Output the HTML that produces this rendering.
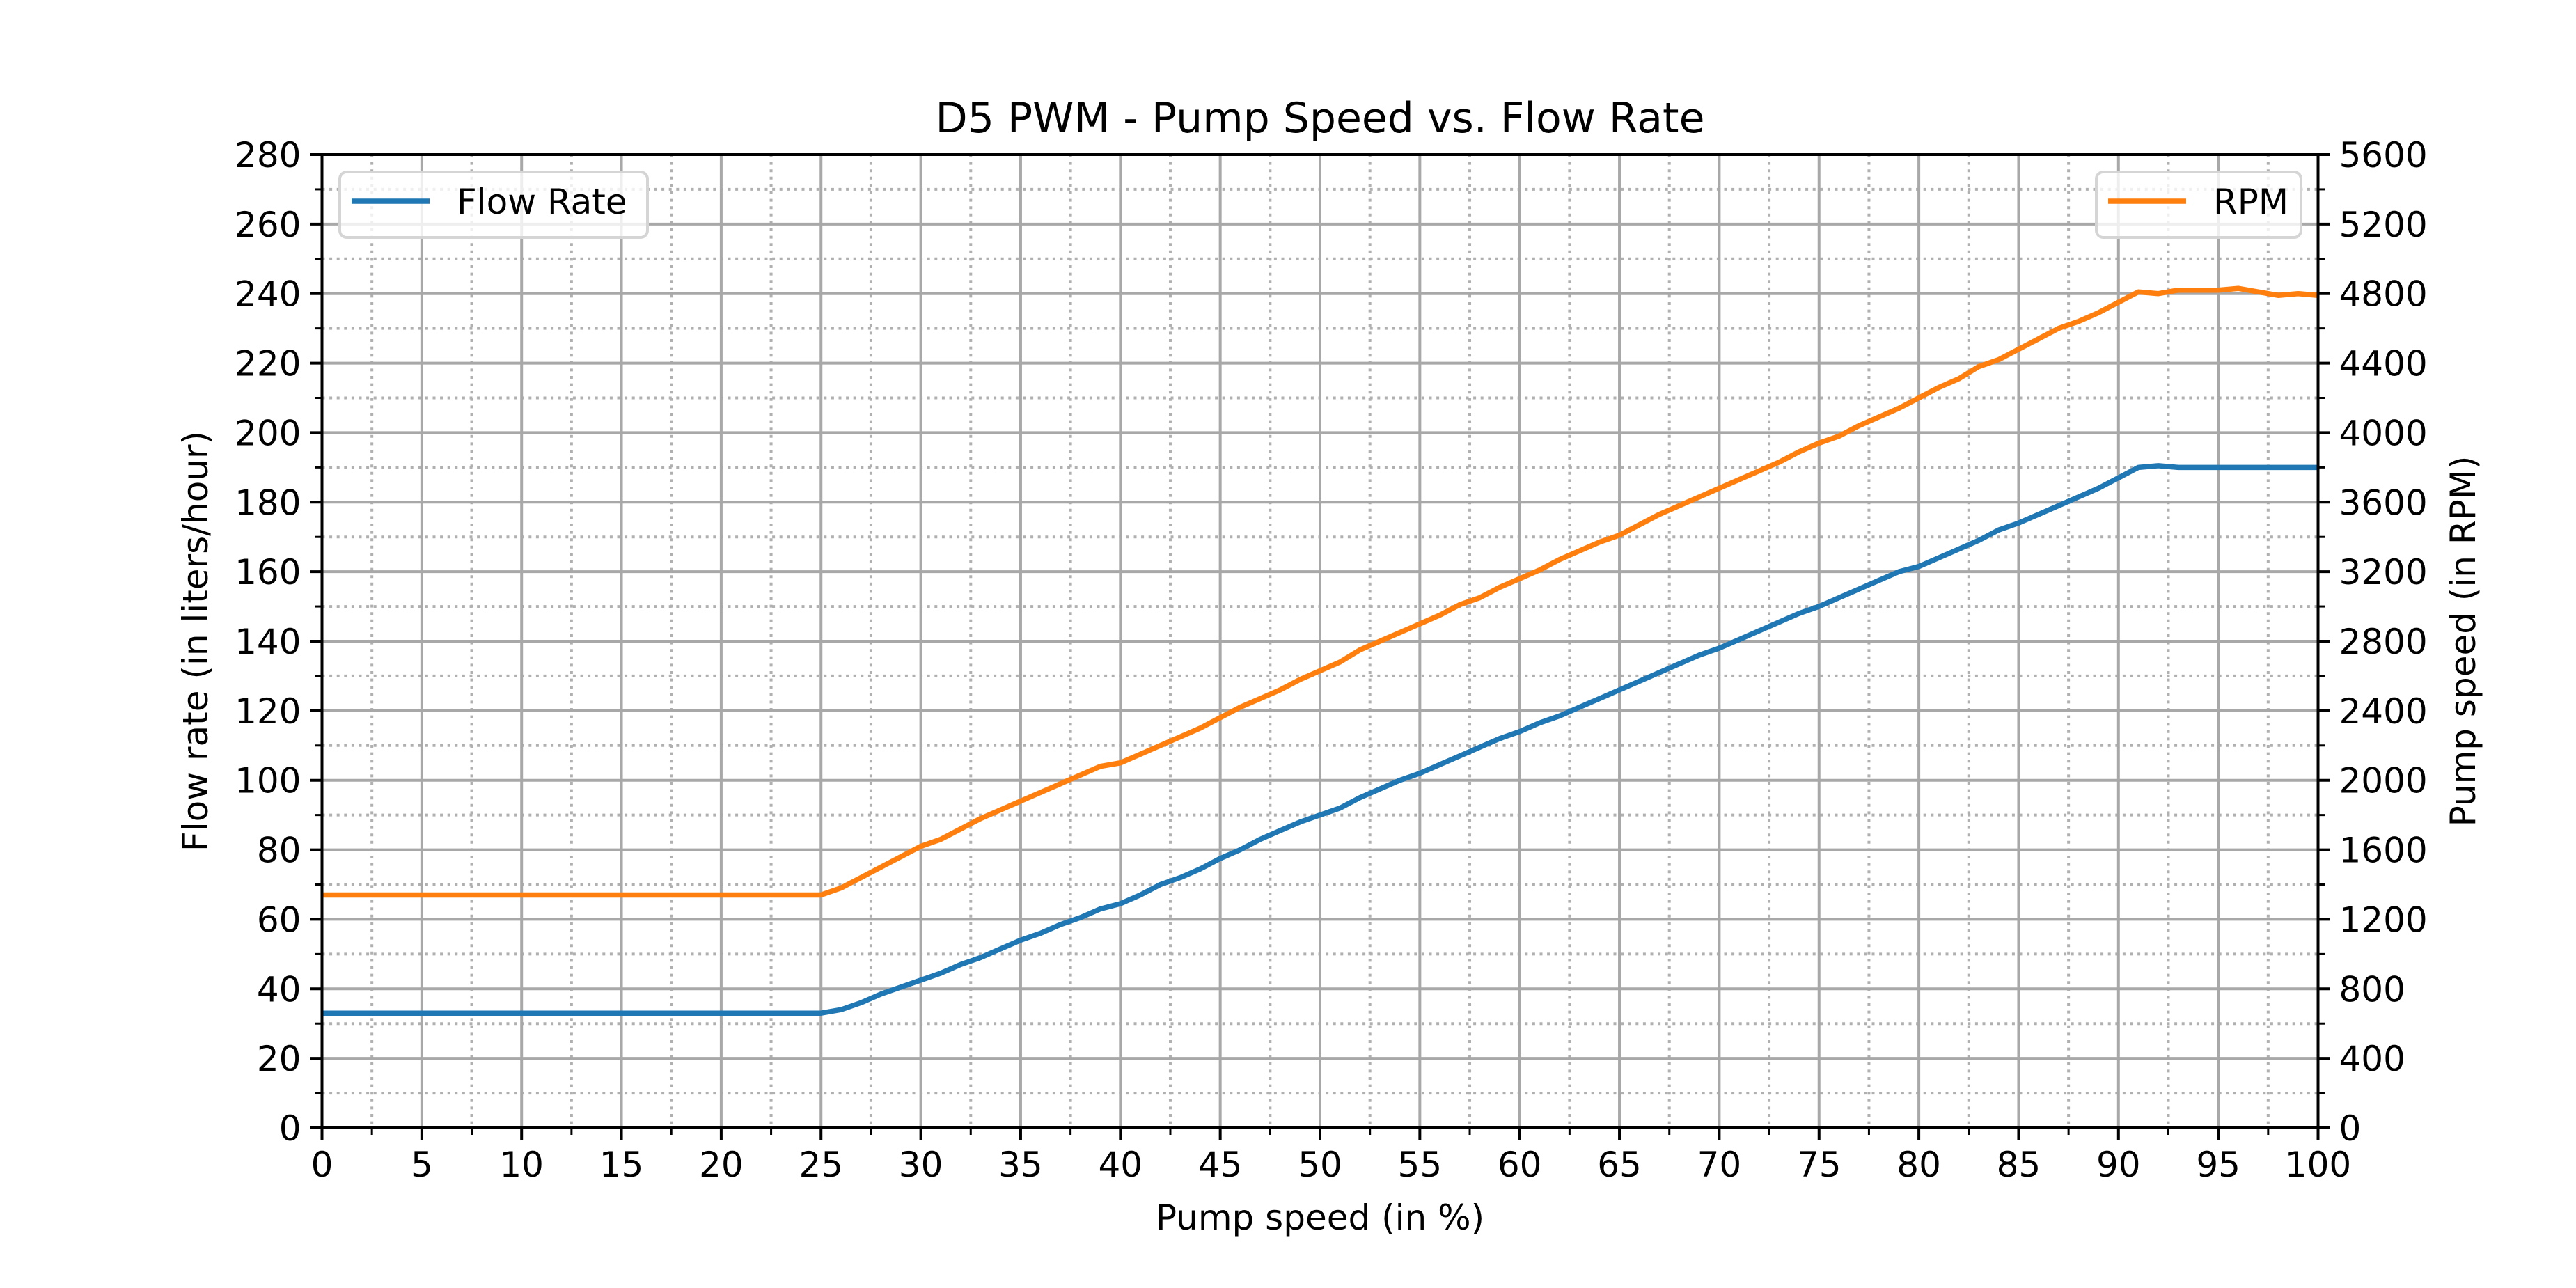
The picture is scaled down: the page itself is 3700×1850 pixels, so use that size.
<!DOCTYPE html>
<html><head><meta charset="utf-8"><style>
html,body{margin:0;padding:0;background:#fff;}
svg{display:block;font-family:"DejaVu Sans","Liberation Sans",sans-serif;}
</style></head><body>
<svg id="chart" width="3700" height="1850" viewBox="0 0 3700 1850" xmlns="http://www.w3.org/2000/svg">
<rect width="3700" height="1850" fill="#fff"/>
<g id="grid"></g><g id="series"></g><g id="axes"></g>
<text x="1896" y="190" font-size="60" text-anchor="middle">D5 PWM - Pump Speed vs. Flow Rate</text>
<text x="1896" y="1766" font-size="50" text-anchor="middle">Pump speed (in %)</text>
<text transform="translate(298,921) rotate(-90)" font-size="50" text-anchor="middle">Flow rate (in liters/hour)</text>
<text transform="translate(3555,921) rotate(-90)" font-size="50" text-anchor="middle">Pump speed (in RPM)</text>
<g>
<rect x="488" y="247" width="442" height="94" rx="10" fill="#fff" fill-opacity="0.8" stroke="#d5d5d5" stroke-width="4"/>
<line x1="505" y1="289" x2="617" y2="289" stroke="#1f77b4" stroke-width="7.5"/>
<text x="656" y="307" font-size="50">Flow Rate</text>
</g>
<g>
<rect x="3011" y="247" width="294" height="94" rx="10" fill="#fff" fill-opacity="0.8" stroke="#d5d5d5" stroke-width="4"/>
<line x1="3028" y1="289" x2="3140" y2="289" stroke="#ff7f0e" stroke-width="7.5"/>
<text x="3179" y="307" font-size="50">RPM</text>
</g>
</svg>
<script>
const speeds = [];
for (let i = 0; i <= 100; i++) speeds.push(i);
const flowValues = [33,33,33,33,33,33,33,33,33,33,33,33,33,33,33,33,33,33,33,33,33,33,33,33,33,33,
34,36,38.5,40.5,42.5,44.5,47,49,51.5,54,56,58.5,60.5,63,64.5,67,70,72,74.5,77.5,80,83,85.5,88,90,
92,95,97.5,100,102,104.5,107,109.5,112,114,116.5,118.5,121,123.5,126,128.5,131,133.5,136,138,
140.5,143,145.5,148,150,152.5,155,157.5,160,161.5,164,166.5,169,172,174,176.5,179,181.5,184,187,
190,190.5,190,190,190,190,190,190,190,190];
const rpmValues = [1340,1340,1340,1340,1340,1340,1340,1340,1340,1340,1340,1340,1340,1340,1340,1340,1340,1340,1340,1340,1340,1340,1340,1340,1340,1340,
1380,1440,1500,1560,1620,1660,1720,1780,1830,1880,1930,1980,2030,2080,2100,2150,2200,2250,2300,2360,2420,2470,2520,2580,2630,
2680,2750,2800,2850,2900,2950,3010,3050,3110,3160,3210,3270,3320,3370,3410,3470,3530,3580,3630,3680,
3730,3780,3830,3890,3940,3980,4040,4090,4140,4200,4260,4310,4380,4420,4480,4540,4600,4640,4690,4750,
4810,4800,4820,4820,4820,4830,4810,4790,4800,4790];
const xTicks = [0,5,10,15,20,25,30,35,40,45,50,55,60,65,70,75,80,85,90,95,100];
const yTicksLeft = [0,20,40,60,80,100,120,140,160,180,200,220,240,260,280];
const yTicksRight = [0,400,800,1200,1600,2000,2400,2800,3200,3600,4000,4400,4800,5200,5600];

const L=462.5,R=3329.5,T=222,B=1620;
const X=v=>L+(v-0)/(100)*(R-L);
const YL=v=>B-v/280*(B-T);
const YR=v=>B-v/5600*(B-T);
const NS="http://www.w3.org/2000/svg";
function mk(tag,attrs,parent){const e=document.createElementNS(NS,tag);for(const k in attrs)e.setAttribute(k,attrs[k]);parent.appendChild(e);return e;}
const grid=document.getElementById('grid'),axes=document.getElementById('axes'),series=document.getElementById('series');

for(let v=2.5;v<100;v+=5){const g=mk('line',{x1:X(v),x2:X(v),y1:T,y2:B,stroke:'#b0b0b0','stroke-width':4,'stroke-dasharray':'4,6.6'},grid);


const t=mk('line',{x1:X(v),x2:X(v),y1:B,y2:B+10,stroke:'#000','stroke-width':3},axes);

}
for(let v=10;v<280;v+=20){const g=mk('line',{x1:L,x2:R,y1:YL(v),y2:YL(v),stroke:'#b0b0b0','stroke-width':4,'stroke-dasharray':'4,6.6'},grid);


const t=mk('line',{x1:L-10,x2:L,y1:YL(v),y2:YL(v),stroke:'#000','stroke-width':3},axes);


const t2=mk('line',{x1:R,x2:R+10,y1:YL(v),y2:YL(v),stroke:'#000','stroke-width':3},axes);

}
xTicks.forEach(v=>{if(v>0&&v<100){const g=mk('line',{x1:X(v),x2:X(v),y1:T,y2:B,stroke:'#a8a8a8','stroke-width':4},grid);

}
const t=mk('line',{x1:X(v),x2:X(v),y1:B,y2:B+17.5,stroke:'#000','stroke-width':4},axes);


const lb=mk('text',{x:X(v),y:B+70,'font-size':50,'text-anchor':'middle'},axes);lb.textContent=v;

});
yTicksLeft.forEach(v=>{if(v>0&&v<280){const g=mk('line',{x1:L,x2:R,y1:YL(v),y2:YL(v),stroke:'#a8a8a8','stroke-width':4},grid);

}
const t=mk('line',{x1:L-17.5,x2:L,y1:YL(v),y2:YL(v),stroke:'#000','stroke-width':4},axes);


const lb=mk('text',{x:L-30,y:YL(v)+18,'font-size':50,'text-anchor':'end'},axes);lb.textContent=v;

});
yTicksRight.forEach(v=>{const t=mk('line',{x1:R,x2:R+17.5,y1:YR(v),y2:YR(v),stroke:'#000','stroke-width':4},axes);


const lb=mk('text',{x:R+30,y:YR(v)+18,'font-size':50,'text-anchor':'start'},axes);lb.textContent=v;

});
const fr=mk('rect',{x:L,y:T,width:R-L,height:B-T,fill:'none',stroke:'#000','stroke-width':4},axes);


const pf=mk('polyline',{points:speeds.map((s,i)=>X(s)+','+YL(flowValues[i])).join(' '),fill:'none',stroke:'#1f77b4','stroke-width':7.5,'stroke-linejoin':'round'},series);


const pr=mk('polyline',{points:speeds.map((s,i)=>X(s)+','+YR(rpmValues[i])).join(' '),fill:'none',stroke:'#ff7f0e','stroke-width':7.5,'stroke-linejoin':'round'},series);


</script>
</body></html>
